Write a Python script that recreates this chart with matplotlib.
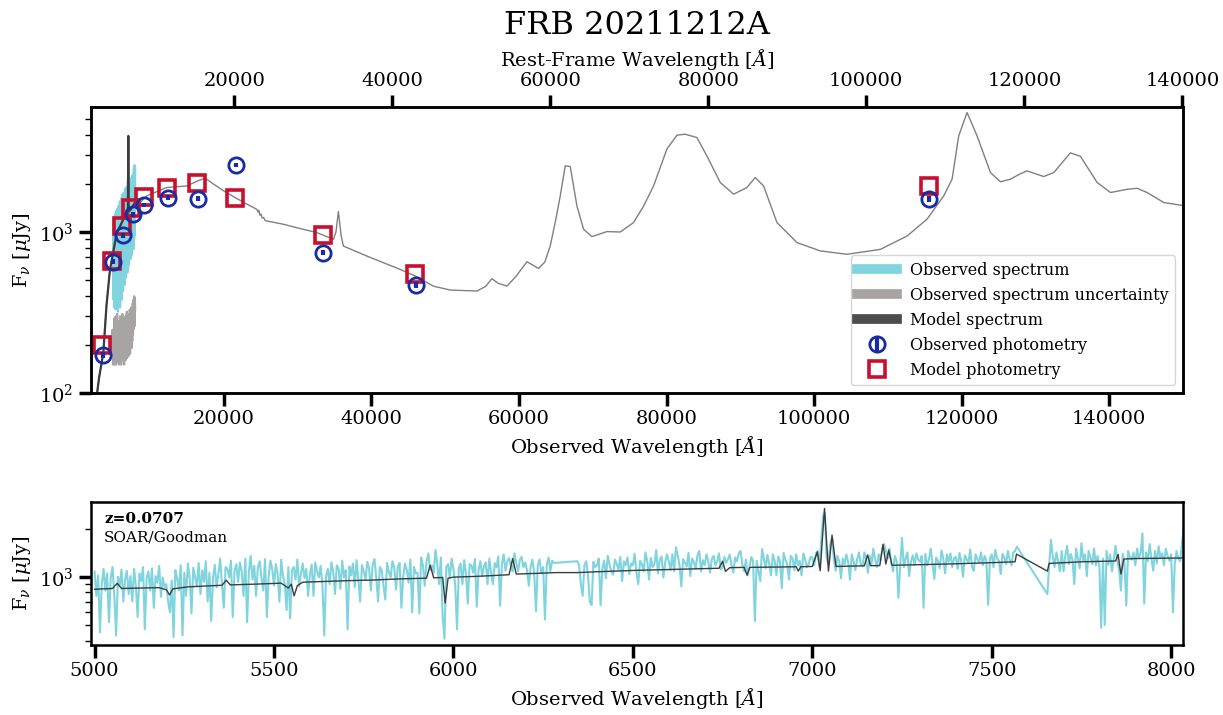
import numpy as np
import matplotlib.pyplot as plt
from matplotlib.lines import Line2D
from matplotlib.ticker import MultipleLocator, NullFormatter

plt.rcParams['font.family'] = ['DejaVu Serif']
plt.rcParams['mathtext.fontset'] = 'dejavuserif'

Z = 0.0707

# --- photometry (observed wavelength in Angstrom, flux in uJy) ---
obs_phot_wave = [3670, 4940, 6380, 7650, 9230, 12490, 16470, 21680, 33500, 46020, 115630]
obs_phot_flux = [173, 654, 954, 1289, 1472, 1637, 1614, 2600, 745, 468, 1614]
obs_phot_err = [8, 25, 35, 45, 50, 55, 55, 85, 25, 18, 70]
mod_phot_wave = [3450, 4800, 6150, 7420, 9230, 12330, 16410, 21530, 33500, 45930, 115630]
mod_phot_flux = [200, 660, 1090, 1418, 1660, 1888, 2027, 1637, 957, 551, 1930]

# --- broad-band model spectrum (thin grey line) ---
sed_wave = [2770, 3100, 3668, 4100, 4576, 4900, 5485, 6000, 6380, 6900, 7500, 8200,
            9550, 12270, 14980, 16500, 17460, 18500, 20000, 21300, 23000, 24470,
            24650, 24750, 24900, 25050, 25200, 25400, 25600, 25820, 28080, 30000,
            32600, 34850, 35200, 35530, 35900, 36210, 39380, 43900, 45930, 48410,
            50680, 54300, 55500, 56330, 57200, 58370, 59600, 61080, 62650, 63500,
            64240, 65000, 65600, 66270, 66950, 67860, 68760, 69890, 71920, 73730,
            75530, 76900, 78240, 80050, 81410, 82500, 84120, 85470, 87280, 89090,
            90900, 92030, 93160, 94970, 97690, 100840, 104460, 108980, 112600,
            115300, 117570, 118700, 119600, 120730, 122090, 123900, 125250, 126600,
            127960, 128860, 131120, 132480, 134740, 136100, 138360, 140170, 142430,
            143790, 145140, 147400, 150000]
sed_flux = [95, 125, 177, 350, 586, 700, 990, 1100, 1200, 1250, 1400, 1450,
            1675, 1890, 1930, 2080, 2160, 2000, 1800, 1660, 1500, 1384,
            1330, 1360, 1270, 1290, 1220, 1230, 1180, 1171, 1117, 1060,
            992, 900, 1000, 1340, 950, 818, 709, 586, 533, 461,
            436, 430, 460, 513, 480, 461, 530, 654, 594, 650,
            818, 1200, 1675, 2575, 2550, 1450, 1040, 936, 1006, 1000,
            1144, 1450, 1930, 3270, 3990, 4050, 3860, 2970, 2030, 1717,
            1888, 2180, 1930, 1144, 859, 763, 727, 780, 944,
            1200, 1675, 2127, 3950, 5520, 3950, 2340, 2050, 2127,
            2300, 2395, 2210, 2340, 3100, 2950, 2030, 1758, 1842,
            1868, 1758, 1524, 1460]

# --- high-res model over the optical (dark line, top panel) ---
hires_wave = [2770, 3100, 3668, 4100, 4576, 4900, 5485, 6000, 6380, 6900, 7000,
              7058, 7110, 7500, 7966, 8200]
hires_flux = [95, 125, 177, 350, 586, 700, 990, 1100, 1200, 1250, 1400,
              3950, 1350, 1400, 1530, 1450]

# --- spectrum as shown in the SED panel (50 A steps from 5000 A) ---
top_spec_flux = [1100, 380, 1250, 340, 1180, 420, 1300, 330, 1350, 450,
                 1280, 360, 1400, 320, 1450, 500, 1380, 410, 1550, 340,
                 1500, 450, 1620, 380, 1700, 520, 1550, 430, 1750, 560,
                 1680, 470, 1850, 600, 1750, 520, 1900, 640, 1800, 560,
                 2100, 700, 1950, 620, 2050, 750, 1900, 680, 2150, 800,
                 2000, 720, 2250, 850, 2300, 780, 2450, 900, 2600, 950,
                 2500]

# --- spectrum uncertainty ---
unc_wave = [4850, 4900, 4950, 5000, 5050, 5100, 5150, 5200, 5250, 5300, 5350, 5400,
            5450, 5500, 5550, 5600, 5650, 5700, 5750, 5800, 5850, 5900, 5950, 6000,
            6050, 6100, 6150, 6200, 6250, 6300, 6350, 6400, 6450, 6500, 6550, 6600,
            6650, 6700, 6750, 6800, 6850, 6900, 6950, 7000, 7050, 7100, 7150, 7200,
            7250, 7300, 7350, 7400, 7450, 7500, 7550, 7600, 7650, 7700, 7750, 7800,
            7850, 7900, 7950, 8000]
unc_flux = [245, 170, 230, 150, 250, 165, 290, 150, 240, 160, 300, 150,
            260, 170, 310, 155, 240, 175, 280, 150, 250, 160, 300, 165,
            270, 150, 250, 170, 310, 160, 270, 175, 290, 150, 260, 170,
            300, 160, 280, 175, 320, 165, 270, 180, 310, 170, 290, 190,
            330, 175, 300, 200, 340, 190, 330, 210, 360, 230, 380, 250,
            400, 260, 390, 330]

# --- SOAR/Goodman spectrum, 5 A sampling from 5000 A (None = masked) ---
spec_start, spec_step = 5000, 5
spec_flux = [
    1080, 760, 1020, 450, 900, 1120, 820, 1050, 520, 980, 1150, 760, 430, 1000, 880, 1110, 700, 960, 1090, 780,
    1010, 700, 1120, 880, 560, 1050, 940, 1150, 470, 990, 1080, 820, 1130, 640, 1010, 920, 1170, 750, 990, 860,
    900, 700, 600, 950, 420, 1100, 980, 820, 1180, 430, 1060, 760, 1210, 980, 590, 1140, 1000, 870, 1220, 780,
    1100, 930, 1250, 700, 1060, 530, 980, 1190, 860, 1040, 1300, 900, 640, 1150, 1120, 990, 1260, 560, 1080, 1200,
    930, 1230, 1080, 760, 1300, 520, 1080, 1350, 960, 1170, 760, 1150, 1250, 980, 820, 1290, 560, 1000, 1260, 1120,
    880, 1200, 1050, 700, 1280, 1010, 900, 620, 1150, 550, 1100, 1150, 960, 1280, 870, 1040, 1210, 980, 1120, 760,
    1040, 1190, 760, 1230, 1080, 990, 1170, 880, 430, 1010, 1120, 900, 1230, 1080, 780, 1180, 1120, 840, 1260, 990,
    1100, 470, 1160, 1020, 1210, 860, 1270, 960, 700, 1180, 1080, 960, 1240, 1120, 820, 1200, 1290, 980, 700, 1150,
    1100, 880, 720, 1220, 1070, 990, 1250, 1150, 830, 1160, 1220, 640, 1000, 1210, 1100, 920, 1280, 600, 1150, 1050,
    1060, 590, 1320, 1180, 880, 1240, 1400, 1100, 1180, 1060, 1470, 1200, 900, 1320, 560, 410, 1150, 1200, 980, 1300,
    1120, 880, 470, 1130, 1210, 900, 1270, 1050, 680, 1200, 1180, 1060, 1290, 650, 1100, 1250, 1010, 1160, 1230, 900,
    1300, 1060, 900, 1220, 1150, 1340, 660, 1200, 1380, 1090, 1250, 1310, 1160, 1080, 1400, 1220, 1080, 1270, 1330, 1150,
    1230, 1100, 880, 1150, 1280, 1060, 610, 1190, 1280, 1050, 1150, 540, 1190, 1320, 1080, 1260, 1220, None, None, None,
    None, None, None, None, None, None, None, None, None, 1250, 1180, 900, 760, 1180, 1250, 1020, 700, 665, 1240, 1150,
    1180, 1300, 665, 1120, 1260, 980, 1350, 1190, 1080, 1030, 1280, 1200, 1110, 1330, 940, 1250, 1180, 1320, 1040, 1210,
    1180, 1390, 1060, 900, 1260, 1200, 1080, 1420, 1260, 960, 1310, 1150, 1200, 1470, 1050, 1280, 1340, 990, 1230, 1380,
    1250, 1100, 1380, 1080, 1530, 1360, 1180, 870, 1290, 1220, 1160, 1410, 1010, 1300, 1240, 1120, 1360, 1450, 1080, 1270,
    1180, 1380, 1250, 1060, 1290, 1350, 1180, 1250, 1400, 1110, 1150, 1330, 1220, 1290, 1380, 1180, 1060, 1320, 1250, 1400,
    1450, 1200, 1080, 1280, 1020, 1150, 1330, 1250, 530, 1260, 1080, 940, 1490, 1300, 1130, 1370, 1200, 1020, 1380, 1260,
    1020, 1340, 1250, 850, 1410, 1280, 1200, 960, 1350, 1300, 1100, 1380, 1180, 1260, 1020, 1400, 1290, 1150, 1200, 1330,
    1320, 1180, 1400, 1450, 1150, 1700, 2400, 2500, 1300, 1200, 1600, 1750, 1300, 1090, 1350, 1250, 980, 1300, 1200, 1380,
    1230, 960, 1380, 1250, 1100, 1290, 1420, 1200, 1160, 1420, 1300, 1060, 1350, 1200, 1500, 1280, 1150, 1380, 1260, 1500,
    1600, 1450, 1300, 1500, 1230, 1080, 1350, 1250, 740, 1180, 1750, 1150, 1300, 1420, 1010, 1250, 1360, 1180, 1400, 1280,
    1240, 1350, 640, 1390, 1180, 1280, 1500, 1200, 970, 1320, 1250, 1130, 1460, 1300, 1050, 1380, 1240, 1400, 1150, 1310,
    1330, 1120, 1410, 1250, 1000, 1360, 1290, 1220, 1480, 1150, 1090, 1380, 1290, 1230, 1420, 1180, 1350, 1260, 670, 1300,
    1380, 1150, 1470, 1300, 1260, 1040, 1390, 1320, 1200, 1450, 1280, 1180, 1420, 1450, 1540, None, None, None, None, None,
    None, None, None, None, None, None, None, None, None, None, None, 780, 1180, 1700, 1350, 1150, 1420, 1250, 1080, 1450,
    1080, 1350, 1560, 1200, 1390, 1280, 900, 1500, 1300, 1130, 1620, 1260, 1380, 1010, 1450, 1320, 1200, 1500, 1180, 1350,
    1150, 480, 1300, 500, 1450, 1190, 1380, 1080, 1300, 1560, 1250, 1100, 820, 1390, 1200, 660, 1450, 1330, 1280, 1420,
    1180, 1500, 1300, 1420, 1870, 680, 1420, 1250, 1600, 1300, 1090, 1450, 1210, 1550, 1320, 1400, 1180, 1500, 1350, 1260,
    1380, 600, 1200, 1450, 1300, 1250, 1600, 2010,
]

# --- model matched to the spectrum (bottom panel) ---
mod_wave = [5000, 5020, 5050, 5063, 5075, 5120, 5180, 5200, 5209, 5218, 5260, 5330,
            5355, 5367, 5378, 5450, 5520, 5540, 5548, 5556, 5565, 5580, 5640, 5700,
            5780, 5850, 5925, 5935, 5945, 5970, 5977, 5985, 6000, 6060, 6120, 6155,
            6165, 6175, 6230, 6285, 6345, 6400, 6500, 6600, 6700, 6740, 6750, 6758,
            6770, 6810, 6818, 6826, 6900, 6955, 6961, 6968, 7000, 7014, 7022, 7034,
            7045, 7055, 7066, 7100, 7145, 7154, 7162, 7188, 7197, 7205, 7213, 7222,
            7300, 7400, 7500, 7565, 7569, 7655, 7660, 7750, 7845, 7852, 7860, 7868,
            7900, 8030]
mod_flux = [835, 840, 845, 910, 845, 850, 855, 830, 770, 840, 865, 880,
            885, 952, 890, 900, 912, 850, 900, 760, 880, 925, 935, 945,
            955, 970, 980, 1180, 985, 990, 685, 980, 995, 1005, 1020, 1030,
            1300, 1040, 1050, 1062, 1062, 1075, 1095, 1110, 1125, 1130, 1250, 1080,
            1140, 1145, 1025, 1145, 1150, 1155, 1086, 1155, 1160, 1430, 1090, 2670,
            1085, 1820, 1160, 1165, 1170, 1370, 1172, 1175, 1594, 1200, 1468, 1180,
            1190, 1205, 1225, 1240, 1386, 1085, 1212, 1240, 1255, 1380, 1040, 1290,
            1300, 1310]

spec_wave_all = spec_start + spec_step * np.arange(len(spec_flux))
keep = [f is not None for f in spec_flux]
spec_wave = spec_wave_all[keep]
spec_vals = np.array([f for f in spec_flux if f is not None], dtype=float)
top_spec_wave = 5000 + 50 * np.arange(len(top_spec_flux))

CYAN = '#80d4de'
UNC = '#a9a4a4'
DARK = '#3c3c3c'
BLUE = '#1a2ca3'
RED = '#c8102e'

fig = plt.figure(figsize=(12.23, 7.15), dpi=100)
ax = fig.add_axes([0.0744, 0.4503, 0.8929, 0.4])
axb = fig.add_axes([0.0744, 0.0979, 0.8929, 0.2])

# top panel
ax.plot(unc_wave, unc_flux, color=UNC, lw=1.5, zorder=1)
ax.plot(top_spec_wave, top_spec_flux, color=CYAN, lw=1.5, zorder=2)
ax.plot(sed_wave, sed_flux, color='#808080', lw=1.0, zorder=3)
ax.plot(hires_wave, hires_flux, color=DARK, lw=1.6, zorder=4)
ax.plot(mod_phot_wave, mod_phot_flux, 's', ms=12, mfc='none', mec=RED, mew=2.6, zorder=5)
eb = ax.errorbar(obs_phot_wave, obs_phot_flux, yerr=obs_phot_err, fmt='o', ms=11,
                 mfc='none', mec=BLUE, mew=2.0, ecolor=BLUE, elinewidth=3, capsize=0,
                 zorder=6)

ax.set_yscale('log')
ax.set_xlim(2000, 150000)
ax.set_ylim(100, 5970)
ax.xaxis.set_major_locator(MultipleLocator(20000))
ax.set_xlabel('Observed Wavelength [$\\AA$]', fontsize=14)
ax.set_ylabel('F$_\\nu$ [$\\mu$Jy]', fontsize=14)

handles = [Line2D([], [], color=CYAN, lw=7),
           Line2D([], [], color=UNC, lw=7),
           Line2D([], [], color='#4d4d4d', lw=7),
           eb,
           Line2D([], [], marker='s', ls='none', ms=11, mfc='none', mec=RED, mew=2.6)]
labels = ['Observed spectrum', 'Observed spectrum uncertainty', 'Model spectrum',
          'Observed photometry', 'Model photometry']
ax.legend(handles, labels, loc='lower right', fontsize=11.5, handlelength=2.5,
          labelspacing=0.5, borderpad=0.4)

ax_top = ax.twiny()
ax_top.set_xlim(2000 / (1 + Z), 150000 / (1 + Z))
ax_top.xaxis.set_major_locator(MultipleLocator(20000))
ax_top.set_xlabel('Rest-Frame Wavelength [$\\AA$]', fontsize=14, labelpad=4)

# bottom panel
axb.plot(spec_wave, spec_vals, color=CYAN, lw=1.5, zorder=1)
axb.plot(mod_wave, mod_flux, color=DARK, lw=1.0, zorder=2)
axb.set_yscale('log')
axb.set_xlim(4990, 8033)
axb.set_ylim(375, 2930)
axb.xaxis.set_major_locator(MultipleLocator(500))
axb.yaxis.set_minor_formatter(NullFormatter())
axb.set_xlabel('Observed Wavelength [$\\AA$]', fontsize=14)
axb.set_ylabel('F$_\\nu$ [$\\mu$Jy]', fontsize=14)
axb.text(0.012, 0.93, 'z=0.0707', transform=axb.transAxes, fontsize=11,
         fontweight='bold', va='top')
axb.text(0.012, 0.80, 'SOAR/Goodman', transform=axb.transAxes, fontsize=11, va='top')

for a in (ax, axb, ax_top):
    a.tick_params(which='major', direction='out', length=9, width=2.5, labelsize=14)
    a.tick_params(which='minor', direction='out', length=4, width=1)
    for s in a.spines.values():
        s.set_linewidth(1.8)
ax.tick_params(axis='x', which='minor', bottom=False)
ax_top.tick_params(axis='x', which='minor', top=False)
axb.tick_params(axis='x', which='minor', bottom=False)

fig.text(0.521, 0.964, 'FRB 20211212A', ha='center', va='center', fontsize=23)

fig.savefig('out.png', dpi=100)
